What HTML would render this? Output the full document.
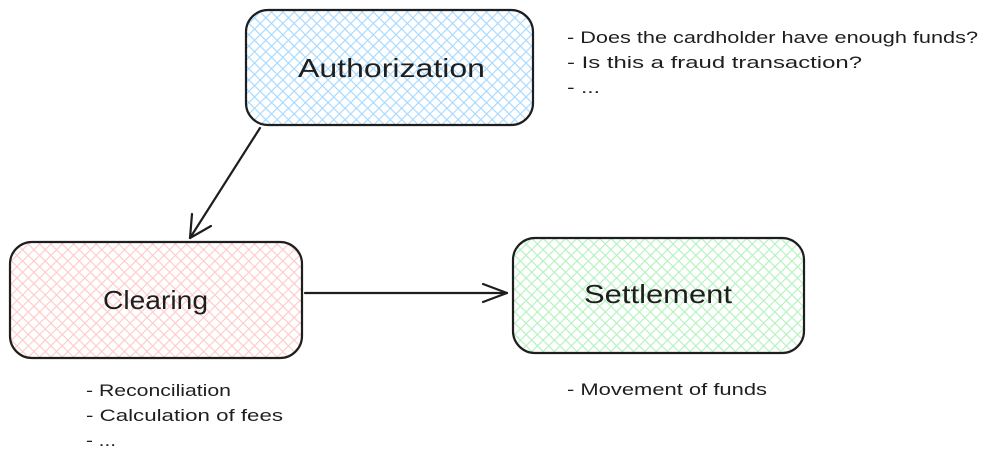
<!DOCTYPE html>
<html><head><style>html,body{margin:0;padding:0;background:#fff;}</style></head><body>
<svg width="991" height="464" viewBox="0 0 991 464" xmlns="http://www.w3.org/2000/svg" font-family="Liberation Sans, sans-serif">
<defs>
<pattern id="pb" width="8" height="8" patternUnits="userSpaceOnUse" patternTransform="rotate(45)"><rect width="8" height="8" fill="#fff"/><path d="M0 0V8M0 0H8" stroke="#a5d8ff" stroke-width="2.2"/></pattern>
<pattern id="pr" width="8" height="8" patternUnits="userSpaceOnUse" patternTransform="rotate(45)"><rect width="8" height="8" fill="#fff"/><path d="M0 0V8M0 0H8" stroke="#ffc9c9" stroke-width="2.2"/></pattern>
<pattern id="pg" width="8" height="8" patternUnits="userSpaceOnUse" patternTransform="rotate(45)"><rect width="8" height="8" fill="#fff"/><path d="M0 0V8M0 0H8" stroke="#b2f2bb" stroke-width="2.2"/></pattern>
</defs>
<g stroke="#1e1e1e" stroke-width="2.2">
<rect x="246" y="10" width="287" height="115" rx="22" fill="url(#pb)"/>
<rect x="10" y="242" width="292" height="116" rx="22" fill="url(#pr)"/>
<rect x="513" y="238" width="291" height="115" rx="22" fill="url(#pg)"/>
<g fill="none" stroke-linecap="round">
<path d="M260 128 L190 238"/>
<path d="M190 238 L192 214 M190 238 L211 226"/>
<path d="M305 293 L507 293"/>
<path d="M507 293 L483 284 M507 293 L483 302"/>
</g>
</g>
<g fill="#1e1e1e" font-size="26">
<text x="298" y="77" textLength="187" lengthAdjust="spacingAndGlyphs">Authorization</text>
<text x="103" y="309" textLength="105" lengthAdjust="spacingAndGlyphs">Clearing</text>
<text x="584" y="303" textLength="148" lengthAdjust="spacingAndGlyphs">Settlement</text>
</g>
<g fill="#1e1e1e" font-size="17">
<text x="567" y="43" textLength="411" lengthAdjust="spacingAndGlyphs">- Does the cardholder have enough funds?</text>
<text x="567" y="68" textLength="295" lengthAdjust="spacingAndGlyphs">- Is this a fraud transaction?</text>
<text x="567" y="93" textLength="33" lengthAdjust="spacingAndGlyphs">- ...</text>
<text x="86" y="396" textLength="145" lengthAdjust="spacingAndGlyphs">- Reconciliation</text>
<text x="86" y="421" textLength="197" lengthAdjust="spacingAndGlyphs">- Calculation of fees</text>
<text x="86" y="446" textLength="30" lengthAdjust="spacingAndGlyphs">- ...</text>
<text x="567" y="395" textLength="200" lengthAdjust="spacingAndGlyphs">- Movement of funds</text>
</g>
</svg>
</body></html>
